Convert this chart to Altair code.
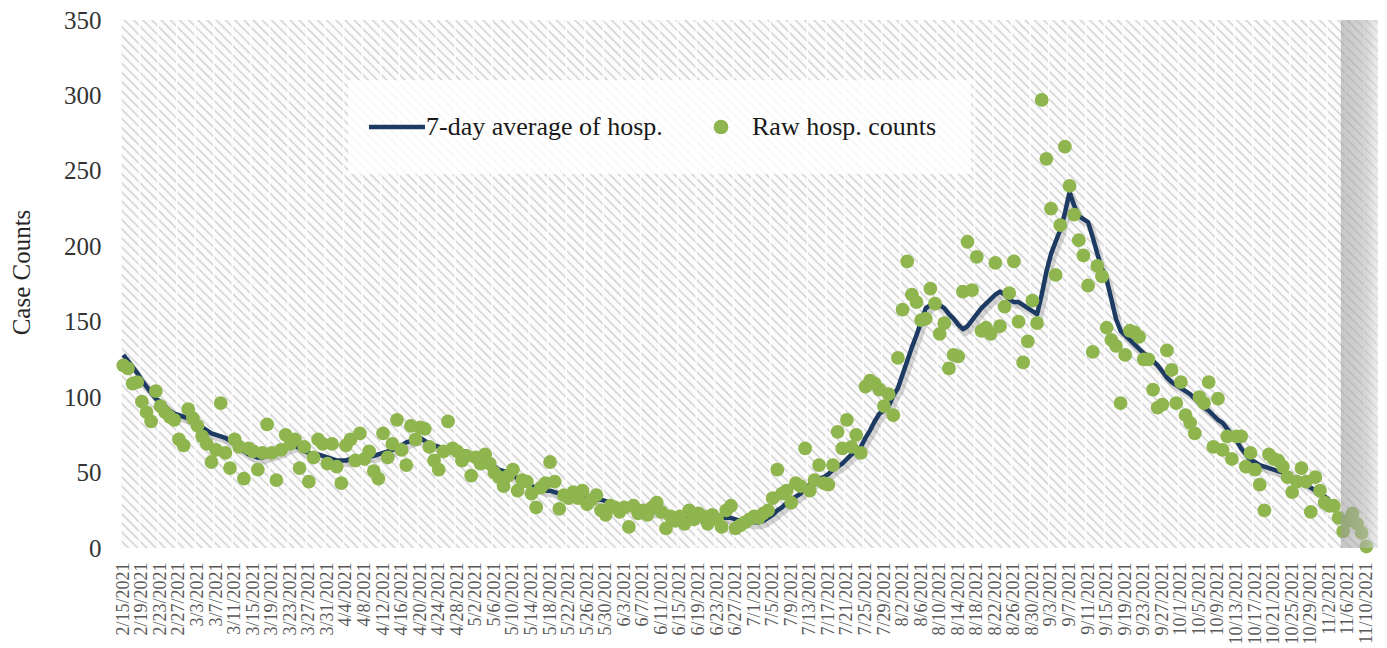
import altair as alt
import pandas as pd

FONT = "Liberation Serif"
NAVY = "#1d3a63"
GREEN = "#8fb54f"
AVG = "7-day average of hosp."
RAW = "Raw hosp. counts"

# category axis: one slot per day, 2/15/2021 .. 11/12/2021
dates = pd.date_range("2021-02-15", "2021-11-12", freq="D")
date_labels = [f"{d.month}/{d.day}/{d.year}" for d in dates]
tick_days = list(range(0, 269, 4))
tick_labels = [date_labels[i] for i in tick_days]
grid_lines = [d - 0.5 for d in tick_days]

raw_counts = [
    121, 119, 109, 110, 97, 90, 84, 104, 94, 90,
    87, 85, 72, 68, 92, 86, 81, 74, 69, 57,
    65, 96, 63, 53, 72, 67, 46, 66, 64, 52,
    63, 82, 63, 45, 65, 75, 69, 72, 53, 67,
    44, 60, 72, 69, 56, 69, 54, 43, 68, 72,
    58, 76, 59, 64, 51, 46, 76, 60, 69, 85,
    65, 55, 81, 72, 80, 79, 67, 58, 52, 64,
    84, 66, 64, 58, 61, 48, 60, 56, 62, 56,
    50, 47, 41, 48, 52, 38, 45, 44, 36, 27,
    40, 43, 57, 44, 26, 35, 33, 37, 33, 38,
    29, 32, 35, 25, 22, 28, 27, 24, 27, 14,
    28, 23, 25, 22, 27, 30, 24, 13, 21, 18,
    21, 16, 25, 19, 23, 21, 16, 22, 19, 14,
    25, 28, 13, 15, 17, 19, 21, 20, 23, 25,
    33, 52, 36, 38, 30, 43, 41, 66, 38, 45,
    55, 43, 42, 55, 77, 66, 85, 67, 75, 63,
    107, 111, 109, 105, 94, 102, 88, 126, 158, 190,
    168, 163, 151, 152, 172, 162, 142, 149, 119, 128,
    127, 170, 203, 171, 193, 144, 146, 142, 189, 147,
    160, 169, 190, 150, 123, 137, 164, 149, 297, 258,
    225, 181, 214, 266, 240, 221, 204, 194, 174, 130,
    187, 180, 146, 138, 134, 96, 128, 144, 143, 140,
    125, 125, 105, 93, 95, 131, 118, 96, 110, 88,
    83, 76, 100, 96, 110, 67, 99, 65, 74, 59,
    74, 74, 54, 63, 52, 42, 25, 62, 59, 58,
    54, 47, 37, 44, 53, 44, 24, 47, 38, 30,
    28, 28, 20, 11, 18, 23, 16, 10, 1,
]

avg_7day = [
    128, 124, 120, 116, 111, 107, 103, 99, 97, 94,
    91, 89, 88, 87, 86, 84, 82, 80, 78, 76,
    75, 74, 73, 71, 69, 66, 64, 62, 61, 60,
    60, 61, 62, 63, 64, 66, 67, 68, 66, 64,
    63, 62, 62, 61, 60, 59, 58, 58, 58, 59,
    59, 60, 60, 61, 61, 62, 63, 64, 65, 66,
    68, 70, 71, 72, 73, 71, 69, 68, 67, 66,
    66, 65, 65, 64, 64, 61, 59, 58, 56, 55,
    54, 52, 51, 50, 48, 46, 45, 43, 41, 40,
    39, 38, 38, 37, 36, 36, 35, 35, 34, 34,
    33, 33, 32, 32, 31, 30, 29, 28, 27, 27,
    26, 26, 25, 25, 24, 24, 23, 23, 22, 22,
    21, 21, 21, 20, 20, 20, 20, 20, 20, 20,
    20, 20, 19, 18, 18, 17, 17, 17, 18, 20,
    22, 25, 27, 30, 32, 34, 36, 40, 42, 44,
    46, 47, 49, 52, 54, 56, 59, 62, 64, 67,
    73, 78, 84, 89, 91, 94, 101, 106, 115, 124,
    133, 141, 150, 159, 161, 163, 161, 159, 155, 152,
    148, 145, 147, 151, 155, 159, 162, 165, 168, 170,
    168, 165, 163, 163, 161, 159, 157, 155, 168, 183,
    195, 203, 211, 222, 236, 227, 220, 218, 216, 206,
    195, 185, 178, 165, 152, 144, 141, 138, 135, 132,
    129, 127, 124, 121, 117, 113, 110, 108, 106, 104,
    102, 99, 96, 93, 91, 88, 85, 83, 79, 75,
    71, 66, 62, 58, 57, 55, 54, 53, 52, 51,
    50, 49, 47, 46, 44, 42, 40, 38, 36, 34,
    32,
]

# shaded (incomplete) period at the end
shade_start = [262.5]
shade_end = [270.5]

# plot extent (for the hatched background panel)
x_extent = [-0.5, 270.5]
y_extent = [0, 350]

raw_df = pd.DataFrame({"day": list(range(len(raw_counts))), "count": raw_counts, "series": RAW})
avg_df = pd.DataFrame({"day": list(range(len(avg_7day))), "avg": avg_7day})
grid_df = pd.DataFrame({"g": grid_lines})
shade_df = pd.DataFrame({"start": shade_start, "end": shade_end, "lo": [y_extent[0]], "hi": [y_extent[1]]})
bg_df = pd.DataFrame({"x0": [x_extent[0]], "x1": [x_extent[1]], "y0": [y_extent[0]], "y1": [y_extent[1]]})

W, H = 1257, 528
xs = alt.Scale(domain=x_extent, nice=False, zero=False)
ys = alt.Scale(domain=y_extent, nice=False, zero=True)

label_expr = "[" + ",".join(f"'{t}'" for t in tick_labels) + "][round(datum.value / 4)]"

x_axis = alt.Axis(
    values=tick_days, labelExpr=label_expr, labelAngle=-90, labelFont=FONT,
    labelFontSize=18, labelColor="#595959", labelPadding=14, labelOverlap=False,
    labelBound=False, labelFlush=False, ticks=False, domain=False, grid=False, title=None,
)
y_axis = alt.Axis(
    values=list(range(0, 351, 50)), title="Case Counts", titleFont=FONT, titleFontSize=25,
    titleFontWeight="normal", titleColor="#262626", titleX=-100, titleY=252,
    titleAlign="center", titleBaseline="middle", titleAngle=270,
    labelFont=FONT, labelFontSize=25, labelColor="#333333", labelPadding=20,
    ticks=False, domain=False, grid=False,
)

# diagonal hatch (lines running down-right at 45 degrees) as a striped gradient
gx, gy = 1 + (H / W) ** 2, (H / W) * (1 + (H / W) ** 2)
gscale = (1 + H / W) / (1 + (H / W) ** 2)
vx, vy = gscale, -gscale * H / W
diag = (W + H) / 2 ** 0.5
period = 6.5 / diag
stops = []
k = 0
while (k + 1) * period <= 1.0:
    b = k * period
    stops += [
        alt.GradientStop(offset=b, color="#fcfcfc"),
        alt.GradientStop(offset=b + 0.62 * period, color="#fcfcfc"),
        alt.GradientStop(offset=b + 0.70 * period, color="#dadada"),
        alt.GradientStop(offset=b + 0.90 * period, color="#dadada"),
    ]
    k += 1
stops.append(alt.GradientStop(offset=1.0, color="#fcfcfc"))
hatch = alt.LinearGradient(gradient="linear", stops=stops, x1=0, y1=1, x2=vx, y2=1 + vy)

bg = alt.Chart(bg_df).mark_rect(color=hatch).encode(
    x=alt.X("x0:Q", scale=xs, axis=x_axis),
    x2="x1:Q",
    y=alt.Y("y0:Q", scale=ys, axis=y_axis),
    y2="y1:Q",
)

grid = alt.Chart(grid_df).mark_rule(color="#ffffff", strokeWidth=1.5, opacity=0.9).encode(
    x=alt.X("g:Q", scale=xs, axis=x_axis)
)

shadow = alt.Chart(avg_df).transform_calculate(
    sx="datum.day + 0.6", sy="datum.avg - 2.5"
).mark_line(color="#8a8a8a", strokeWidth=6, opacity=0.35, strokeJoin="round").encode(
    x=alt.X("sx:Q", scale=xs, axis=x_axis),
    y=alt.Y("sy:Q", scale=ys, axis=y_axis),
)

line = alt.Chart(avg_df).mark_line(color=NAVY, strokeWidth=4.5, strokeJoin="round").encode(
    x=alt.X("day:Q", scale=xs, axis=x_axis),
    y=alt.Y("avg:Q", scale=ys, axis=y_axis),
)

LINE_SYMBOL = "M-3.54,-0.3H4.08V0.3H-3.54Z"
legend = alt.Legend(
    title=None, orient="none", legendX=227, legendY=60, direction="horizontal",
    fillColor="rgba(255,255,255,0.8)", padding=34, labelFont=FONT, labelFontSize=26,
    labelColor="#1a1a1a", symbolSize=216, symbolStrokeWidth=0, labelOffset=18,
    columnPadding=45, symbolOpacity=1, labelLimit=500,
)

points = alt.Chart(raw_df).mark_point(filled=True, size=190, opacity=1).encode(
    x=alt.X("day:Q", scale=xs, axis=x_axis),
    y=alt.Y("count:Q", scale=ys, axis=y_axis),
    color=alt.Color("series:N", scale=alt.Scale(domain=[AVG, RAW], range=[NAVY, GREEN]), legend=legend),
    shape=alt.Shape("series:N", scale=alt.Scale(domain=[AVG, RAW], range=[LINE_SYMBOL, "circle"]), legend=legend),
)

shade = alt.Chart(shade_df).mark_rect(
    opacity=0.55,
    color=alt.LinearGradient(
        gradient="linear",
        stops=[
            alt.GradientStop(offset=0, color="#9a9a9a"),
            alt.GradientStop(offset=0.65, color="#b4b4b4"),
            alt.GradientStop(offset=1, color="#e2e2e2"),
        ],
        x1=0, x2=1, y1=0, y2=0,
    ),
).encode(
    x=alt.X("start:Q", scale=xs, axis=x_axis),
    x2="end:Q",
    y=alt.Y("lo:Q", scale=ys, axis=y_axis),
    y2="hi:Q",
)

chart = alt.layer(bg, grid, shadow, line, points, shade).properties(
    width=W,
    height=H,
    autosize=alt.AutoSizeParams(type="none"),
    padding={"left": 113, "top": 12, "right": 1, "bottom": 100},
).configure_view(fill="#eeeeee", stroke=None)

chart.save("out.html", embed_options={"renderer": "svg", "actions": False})
